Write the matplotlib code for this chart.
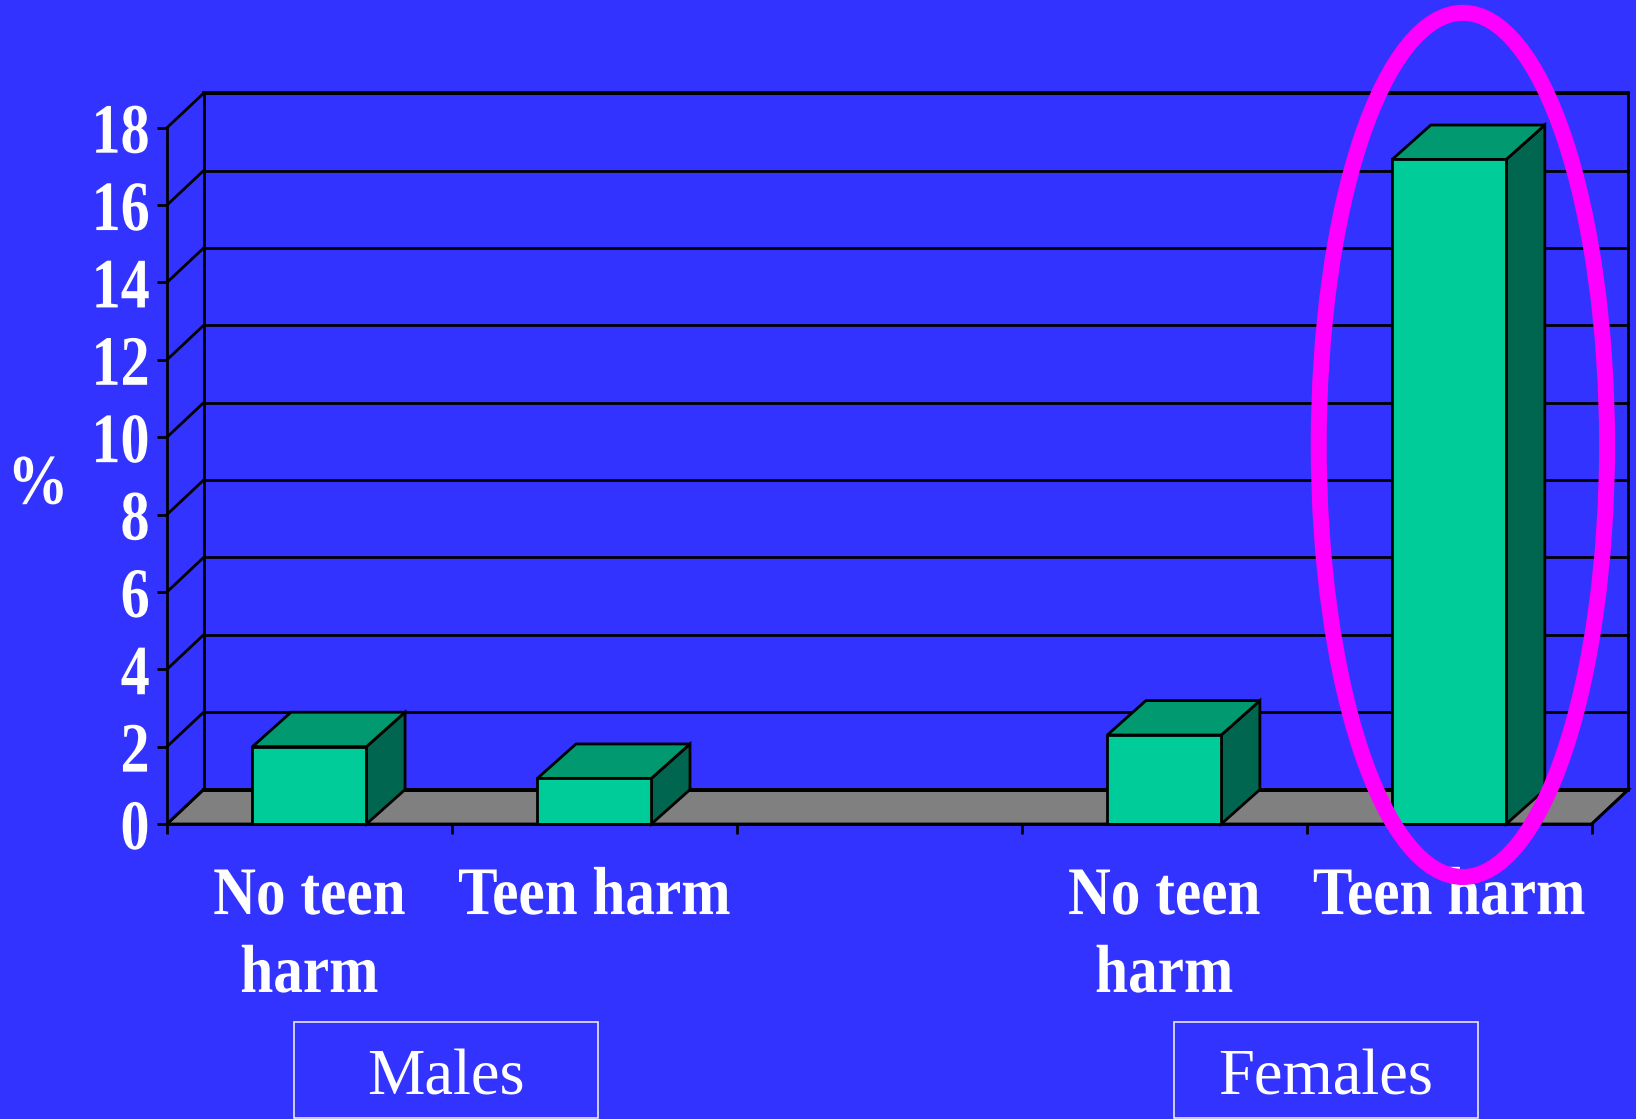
import matplotlib
matplotlib.use("Agg")
import matplotlib.pyplot as plt
from matplotlib.patches import Polygon, Ellipse, Rectangle
from matplotlib.patheffects import AbstractPathEffect
from matplotlib.transforms import Affine2D

# ---- data ----
categories = ["No teen\nharm", "Teen harm", "", "No teen\nharm", "Teen harm"]
values = [2.0, 1.18, None, 2.3, 17.18]
y_ticks = [0, 2, 4, 6, 8, 10, 12, 14, 16, 18]
groups = ["Males", "Females"]
y_label = "%"

# ---- style ----
BG = "#3333FF"
FRONT, TOP, SIDE, FLOOR = "#00CC99", "#009970", "#006650", "#808080"
MAGENTA = "#FF00FF"
W, H = 1636, 1119
LW = 2.0


class Squeeze(AbstractPathEffect):
    """Draw text narrower in x, about its centre or right edge."""
    def __init__(self, sx, anchor="center"):
        super().__init__()
        self.sx, self.anchor = sx, anchor

    def draw_path(self, renderer, gc, tpath, affine, rgbFace=None):
        xs = tpath.vertices[:, 0]
        if len(xs) == 0:
            return
        x0 = xs.max() if self.anchor == "right" else 0.5 * (xs.min() + xs.max())
        t = Affine2D().translate(-x0, 0).scale(self.sx, 1).translate(x0, 0) + affine
        renderer.draw_path(gc, tpath, t, rgbFace)


fig = plt.figure(figsize=(W / 100, H / 100), dpi=100, facecolor=BG)
ax = fig.add_axes([167 / W, 1 - 824 / H, (1591.7 - 167) / W, (824 - 127.7) / H])
ax.set_facecolor("none")
n = len(categories)
ax.set_xlim(0, n)
ax.set_ylim(0, max(y_ticks))
ax.set_axisbelow(True)

# depth of the pseudo-3D box, in data units
ddx, ddy = 36.6 / 285, 34.4 / 38.68
bar_dx = 38.6 / 285
bar_w = 0.40

kw = dict(color="black", lw=LW, clip_on=False, solid_capstyle="projecting")

# floor
ax.add_patch(Polygon([(0, 0), (n, 0), (n + ddx, ddy), (ddx, ddy)], closed=True,
                     fc=FLOOR, ec="black", lw=LW, clip_on=False, zorder=1))
ax.plot([ddx, n + ddx], [ddy, ddy], color="black", lw=2.8, clip_on=False, zorder=1.1)

# walls
for v in y_ticks:
    ax.plot([ddx, n + ddx], [v + ddy, v + ddy], zorder=1, **kw)
    ax.plot([0, ddx], [v, v + ddy], zorder=1, **kw)
top = max(y_ticks)
ax.plot([ddx, n + ddx], [top + ddy, top + ddy], color="black", lw=2.6,
        clip_on=False, zorder=1.1)
ax.plot([ddx, ddx], [ddy, top + ddy], zorder=1, **kw)
ax.plot([n + ddx, n + ddx], [ddy, top + ddy], zorder=1, **kw)
ax.plot([n, n + ddx], [0, ddy], zorder=1, **kw)

# bars
for i, v in enumerate(values):
    if v is None:
        continue
    l, r = i + 0.5 - bar_w / 2, i + 0.5 + bar_w / 2
    ax.add_patch(Polygon([(r, 0), (r + bar_dx, ddy), (r + bar_dx, v + ddy), (r, v)],
                         closed=True, fc=SIDE, ec="black", lw=LW, clip_on=False,
                         joinstyle="miter", zorder=3))
    ax.add_patch(Polygon([(l, v), (r, v), (r + bar_dx, v + ddy), (l + bar_dx, v + ddy)],
                         closed=True, fc=TOP, ec="black", lw=LW, clip_on=False,
                         joinstyle="miter", zorder=3))
    ax.bar(i + 0.5, v, width=bar_w, color=FRONT, edgecolor="black", lw=LW,
           clip_on=False, zorder=3.1)

# spines and ticks
for s in ("top", "right"):
    ax.spines[s].set_visible(False)
for s in ("left", "bottom"):
    ax.spines[s].set_linewidth(LW)
    ax.spines[s].set_zorder(3.2)

ax.set_yticks(y_ticks)
ax.set_yticklabels([str(t) for t in y_ticks])
ax.tick_params(axis="y", length=7.2, width=LW, pad=5, color="black")
for lab in ax.get_yticklabels():
    lab.set(family="Liberation Serif", weight="bold", size=51, color="white")
    lab.set_path_effects([Squeeze(0.82, "right")])

ax.set_xticks(range(n + 1))
ax.set_xticklabels([])
ax.tick_params(axis="x", which="major", length=7.2, width=LW, color="black")
ax.set_xticks([i + 0.5 for i in range(n)], labels=categories, minor=True)
ax.tick_params(axis="x", which="minor", length=0, pad=31)
for lab in ax.get_xticklabels(minor=True):
    lab.set(family="Liberation Serif", weight="bold", size=49, color="white",
            linespacing=1.36)
    lab.set_path_effects([Squeeze(0.87)])

ax.set_ylabel(y_label, rotation=0, family="Liberation Serif", weight="bold", size=51,
              color="white", ha="center", va="center")
ax.yaxis.set_label_coords((38.5 - 167) / 1424.7, (824 - 486) / 696.3)
ax.yaxis.label.set_path_effects([Squeeze(0.86)])

# group boxes
box_w = 304 / 285
box_y0, box_y1 = -7.6, -5.11
for g, cx in zip(groups, [0.98, 4.066]):
    ax.add_patch(Rectangle((cx - box_w / 2, box_y0), box_w, box_y1 - box_y0,
                           fc="none", ec="#E8E8FF", lw=1.2, clip_on=False, zorder=4))
    ax.text(cx, -7.0, g, family="Liberation Serif", size=46.5, color="white",
            ha="center", va="baseline", zorder=4)

# highlight ellipse
ax.add_patch(Ellipse((4.548, 9.8), 1.012, 22.34, fc="none", ec=MAGENTA, lw=11.5,
                     clip_on=False, zorder=10))

fig.savefig("out.png", dpi=100, facecolor=BG)
